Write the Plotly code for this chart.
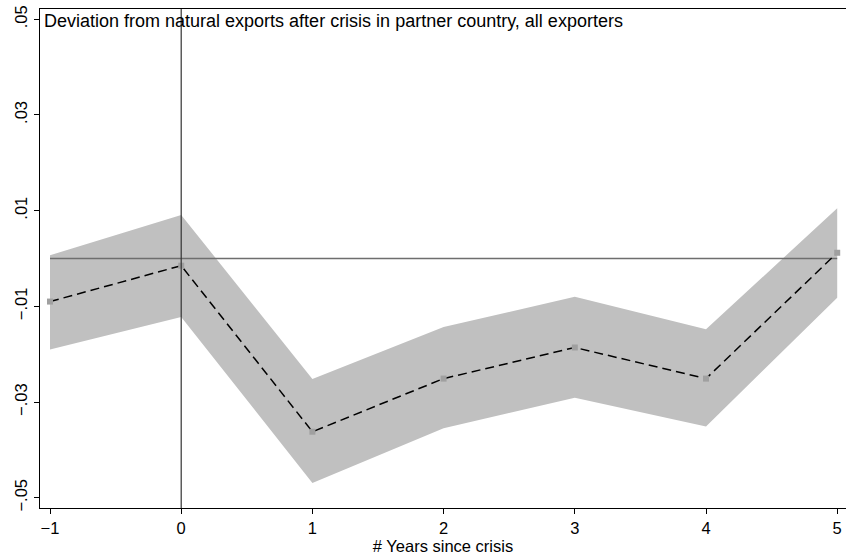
import plotly.graph_objects as go

years = [-1, 0, 1, 2, 3, 4, 5]
estimate = [-0.0090, -0.0015, -0.0362, -0.0251, -0.0186, -0.0251, 0.0012]
ci_upper = [0.0007, 0.0091, -0.0252, -0.0143, -0.0080, -0.0148, 0.0105]
ci_lower = [-0.0190, -0.0122, -0.0469, -0.0355, -0.0291, -0.0351, -0.0082]

y_tickvals = [0.05, 0.03, 0.01, -0.01, -0.03, -0.05]
y_ticktext = [".05", ".03", ".01", "\u2212.01", "\u2212.03", "\u2212.05"]
x_tickvals = [-1, 0, 1, 2, 3, 4, 5]
x_ticktext = ["\u22121", "0", "1", "2", "3", "4", "5"]

title_text = "Deviation from natural exports after crisis in partner country, all exporters"
x_title = "# Years since crisis"

FONT = "Liberation Sans, Arial, sans-serif"

fig = go.Figure()
fig.add_trace(go.Scatter(x=years, y=ci_lower, mode="lines", line=dict(width=0),
                         hoverinfo="skip", showlegend=False))
fig.add_trace(go.Scatter(x=years, y=ci_upper, mode="lines", line=dict(width=0),
                         fill="tonexty", fillcolor="#c0c0c0",
                         hoverinfo="skip", showlegend=False))
fig.add_trace(go.Scatter(x=[min(years), max(years)], y=[0, 0], mode="lines",
                         line=dict(color="#6e6e6e", width=1.3),
                         hoverinfo="skip", showlegend=False))
fig.add_trace(go.Scatter(x=years, y=estimate, mode="lines+markers",
                         line=dict(color="black", width=1.5, dash="9px,5px"),
                         marker=dict(symbol="square", size=6, color="#a0a0a0"),
                         showlegend=False))

fig.add_shape(type="line", xref="x", yref="paper", x0=0, x1=0, y0=0, y1=1,
              line=dict(color="#333333", width=1.2), layer="above")

fig.add_annotation(text=title_text, xref="paper", yref="paper", x=0.003, y=1.0,
                   xanchor="left", yanchor="top", showarrow=False,
                   font=dict(family=FONT, size=18, color="black"))

fig.update_layout(
    width=846, height=555,
    margin=dict(l=40, r=0, t=9, b=47),
    paper_bgcolor="white", plot_bgcolor="white",
    font=dict(family=FONT, size=16, color="black"),
    xaxis=dict(range=[-1.0762, 5.067], tickvals=x_tickvals, ticktext=x_ticktext,
               showgrid=False, zeroline=False, showline=True, linecolor="black",
               linewidth=1.2, mirror=True, ticks="outside", ticklen=5,
               tickcolor="black", tickfont=dict(size=16.5),
               title=dict(text=x_title, font=dict(size=16.5), standoff=2)),
    yaxis=dict(range=[-0.05214, 0.05214], tickvals=y_tickvals, ticktext=y_ticktext,
               showgrid=False, zeroline=False, showline=True, linecolor="black",
               linewidth=1.2, ticks="outside", ticklen=5, tickcolor="black",
               tickangle=-90, tickfont=dict(size=16.5)),
)

fig.write_html("out.html")
